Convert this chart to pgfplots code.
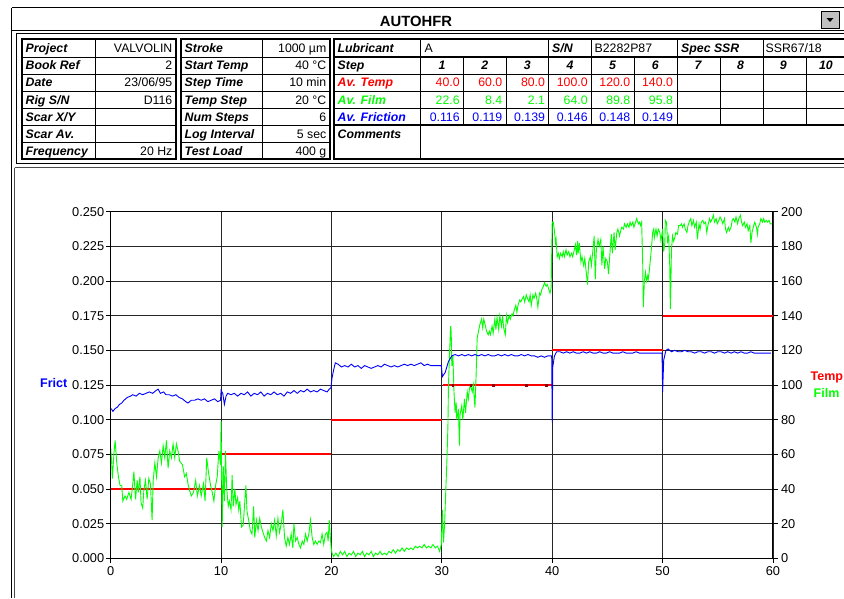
\documentclass[border=0pt]{standalone}
\usepackage{fontspec}
\setmainfont{Liberation Sans}
\usepackage{pgfplots}
\pgfplotsset{compat=1.18}
\definecolor{cred}{RGB}{255,0,0}
\definecolor{cgreen}{RGB}{0,255,0}
\definecolor{cblue}{RGB}{0,0,255}
\definecolor{dkred}{RGB}{140,0,0}
\definecolor{btn}{RGB}{192,192,192}
\newcommand\tf{\fontsize{12.3}{14}\selectfont}
\newcommand\tb{\fontsize{12.3}{14}\selectfont\bfseries\itshape}
% row baselines (pixel rows, y down)
\def\ra{52.5}\def\rb{69.8}\def\rc{86.8}\def\rd{104}\def\re{121.1}\def\rf{138.3}\def\rg{155.3}
% one temperature step as a thin band: start, end, value
\newcommand\tstep[3]{\addplot[fill=cred, draw=none] coordinates {(#1,#3-0.65) (#2,#3-0.65) (#2,#3+0.65) (#1,#3+0.65)};}

\begin{document}
\begin{tikzpicture}
\useasboundingbox (0,0) rectangle (844pt,-598pt);
\fill[white] (0,0) rectangle (844pt,-598pt);
\clip (0,0) rectangle (844pt,-598pt);

\begin{scope}[x=1pt,y=-1pt,every node/.style={inner sep=0pt}]
% window and title bar
\draw[line width=1pt] (11.5,7.5) -- (850,7.5);
\draw[line width=1pt] (11.5,7.5) -- (11.5,598);
\draw[line width=1pt] (11.5,30.5) -- (850,30.5);
\node[anchor=base,font=\fontsize{14.8}{17}\selectfont\bfseries] at (416,26) {AUTOHFR};
\draw[fill=btn,line width=0.8pt] (821,11.5) rectangle (839,28.5);
\fill (826.5,18) -- (833.5,18) -- (830,22) -- cycle;
% frame round the tables
\draw[line width=1pt] (16.5,33.5) rectangle (850,163.5);
% chart pane
\draw[line width=0.8pt,black!70] (14.5,167.5) -- (850,167.5);
\draw[line width=0.8pt,black!70] (14.5,167.5) -- (14.5,598);

% ---- table 1
\foreach \y in {57,74,91,108.3,125.3,142.7} \draw[line width=0.8pt] (22,\y) -- (176,\y);
\draw[line width=0.8pt] (95,39.3) -- (95,159.3);
\draw[line width=2pt] (22,39.3) rectangle (176,159.3);
\foreach \y/\t/\v in {\ra/Project/VALVOLIN,\rb/Book Ref/2,\rc/Date/23\slash 06\slash 95,\rd/Rig S\slash N/D116,\re/Scar X\slash Y/,\rf/Scar Av./,\rg/Frequency/20 Hz}{
  \node[anchor=base west,font=\tb] at (25.5,\y) {\t};
  \node[anchor=base east,font=\tf] at (172.5,\y) {\v};
}
% ---- table 2
\foreach \y in {57,74,91,108.3,125.3,142.7} \draw[line width=0.8pt] (181,\y) -- (330,\y);
\draw[line width=0.8pt] (262.3,39.3) -- (262.3,159.3);
\draw[line width=2pt] (181,39.3) rectangle (330,159.3);
\foreach \y/\t/\v in {\ra/Stroke/1000 µm,\rb/Start Temp/40 °C,\rc/Step Time/10 min,\rd/Temp Step/20 °C,\re/Num Steps/6,\rf/Log Interval/5 sec,\rg/Test Load/400 g}{
  \node[anchor=base west,font=\tb] at (184.5,\y) {\t};
  \node[anchor=base east,font=\tf] at (326.5,\y) {\v};
}
% ---- table 3
\draw[line width=0.8pt] (334,74) -- (850,74);
\draw[line width=0.8pt] (334,91) -- (850,91);
\draw[line width=0.8pt] (334,108.3) -- (850,108.3);
\draw[line width=2pt] (334,57) -- (850,57);
\draw[line width=2pt] (334,125.3) -- (850,125.3);
\draw[line width=0.8pt] (420.7,39.3) -- (420.7,159.3);
\foreach \x in {548.7,591.3,677.3,763} \draw[line width=0.8pt] (\x,39.3) -- (\x,57);
\foreach \x in {463.7,506.3,548.7,591.3,634.3,677.3,720.3,763,806} \draw[line width=0.8pt] (\x,57) -- (\x,125.3);
\draw[line width=2pt] (334,39.3) rectangle (852,159.3);
\node[anchor=base west,font=\tb] at (337.5,\ra) {Lubricant};
\node[anchor=base west,font=\tb] at (337.5,\rb) {Step};
\node[anchor=base west,font=\tb,text=cred] at (337.5,\rc) {Av. Temp};
\node[anchor=base west,font=\tb,text=cgreen] at (337.5,\rd) {Av. Film};
\node[anchor=base west,font=\tb,text=cblue] at (337.5,\re) {Av. Friction};
\node[anchor=base west,font=\tb] at (337.5,\rf) {Comments};
\node[anchor=base west,font=\tf] at (424.5,\ra) {A};
\node[anchor=base west,font=\tb] at (552,\ra) {S/N};
\node[anchor=base west,font=\tf] at (594.5,\ra) {B2282P87};
\node[anchor=base west,font=\tb] at (681,\ra) {Spec SSR};
\node[anchor=base west,font=\tf] at (765.5,\ra) {SSR67/18};
\foreach \k in {1,...,10} \node[anchor=base,font=\tb] at ({420.7+42.65*(\k-0.5)},\rb) {\k};
\foreach \k/\a/\b/\c in {1/40.0/22.6/0.116,2/60.0/8.4/0.119,3/80.0/2.1/0.139,4/100.0/64.0/0.146,5/120.0/89.8/0.148,6/140.0/95.8/0.149}{
  \node[anchor=base east,font=\tf,text=cred] at ({420.7+42.65*\k-3.5},\rc) {\a};
  \node[anchor=base east,font=\tf,text=cgreen] at ({420.7+42.65*\k-3.5},\rd) {\b};
  \node[anchor=base east,font=\tf,text=cblue] at ({420.7+42.65*\k-3.5},\re) {\c};
}
\end{scope}

% ---- temperature and film, right axis (carries the grid)
\begin{axis}[
  at={(110.7pt,-558.3pt)}, anchor=south west, scale only axis,
  width=662.3pt, height=346.6pt,
  xmin=0, xmax=60, ymin=0, ymax=200,
  xtick={0,10,20,30,40,50,60},
  ytick={0,20,40,60,80,100,120,140,160,180,200},
  xtick pos=bottom, ytick pos=right,
  yticklabel pos=right,
  grid=major, major grid style={black!85, line width=0.9pt},
  axis line style={black, line width=1pt},
  tick align=outside, major tick length=4.5pt,
  tick style={black, line width=0.9pt},
  ticklabel style={font=\fontsize{12.8}{14}\selectfont},
  /pgf/number format/assume math mode=true,
]
% temperature steps (deg C held over each 10 min step)
\tstep{0}{10}{40}
\tstep{10}{20}{60}
\tstep{20}{30}{80}
\tstep{30.1}{40}{100}
\tstep{40}{50}{120}
\tstep{50}{60}{140}
\addplot[dkred, only marks, mark=square*, mark size=0.7pt] coordinates {
(31.0,100) (32.6,100) (34.65,100) (37.65,100) (39.45,100)
};
\addplot[cgreen, line width=0.9pt] coordinates {
(0.0,64) (0.08,56) (0.15,46) (0.3,61) (0.4,68) (0.55,55) (0.7,47) (0.85,42) (1.0,42)
(1.1,33) (1.3,36) (1.45,34) (1.65,38) (1.85,34) (2.0,43) (2.1,50) (2.25,34) (2.4,45)
(2.5,38) (2.65,47) (2.75,32) (2.9,29) (3.0,39) (3.15,45) (3.3,34) (3.45,46) (3.6,43)
(3.75,22) (3.85,45) (4.0,55) (4.15,47) (4.3,58) (4.45,62) (4.6,55) (4.75,65) (4.9,58)
(5.05,68) (5.2,52) (5.35,62) (5.5,58) (5.65,66) (5.8,58) (5.95,66) (6.1,62) (6.25,56)
(6.5,54) (6.7,47) (6.85,49) (7.0,43) (7.15,39) (7.3,36) (7.5,38) (7.7,45) (7.85,36)
(8.05,42) (8.2,36) (8.4,43) (8.55,33) (8.7,58) (8.85,50) (9.05,42) (9.2,38) (9.35,33)
(9.5,42) (9.65,47) (9.8,62) (9.95,54) (10.0,79) (10.1,18) (10.2,53) (10.3,33) (10.4,62)
(10.5,41) (10.65,30) (10.75,33) (10.9,28) (11.0,48) (11.1,30) (11.25,40) (11.35,31)
(11.5,35) (11.6,28) (11.7,33) (11.85,18) (12.0,19) (12.15,33) (12.25,42) (12.35,27)
(12.5,22) (12.65,16) (12.8,14) (12.95,30) (13.05,12) (13.2,22) (13.35,16) (13.5,23)
(13.65,18) (13.8,15) (13.95,12) (14.1,10) (14.25,16) (14.4,12) (14.55,20) (14.7,16)
(14.85,22) (15.0,13) (15.15,23) (15.3,15) (15.45,20) (15.6,28) (15.75,12) (15.9,7)
(16.05,12) (16.2,8) (16.35,14) (16.5,6) (16.6,20) (16.75,10) (16.9,12) (17.05,8)
(17.2,6) (17.35,10) (17.5,8) (17.65,14) (17.8,10) (17.95,14) (18.1,22) (18.25,12)
(18.4,8) (18.55,10) (18.7,8) (18.85,10) (19.0,9) (19.15,14) (19.3,8) (19.45,14)
(19.6,15) (19.7,10) (19.8,22) (19.9,12) (19.97,6) (20.05,3) (20.2,1) (20.4,3) (20.6,1)
(20.8,4) (21.0,2) (21.2,4) (21.4,1) (21.6,3) (21.8,2) (22.0,4) (22.2,1) (22.4,3)
(22.6,2) (22.8,4) (23.0,1) (23.2,3) (23.4,2) (23.6,4) (23.8,1) (24.0,3) (24.2,2)
(24.4,4) (24.6,2) (24.8,3) (25.0,2) (25.2,4) (25.4,3) (25.6,5) (25.8,3) (26.0,5)
(26.2,4) (26.4,6) (26.6,4) (26.8,6) (27.0,5) (27.2,6) (27.4,5) (27.6,7) (27.8,6)
(28.0,7) (28.2,6) (28.4,8) (28.6,6) (28.8,7) (29.0,6) (29.2,8) (29.4,6) (29.6,7)
(29.8,4) (29.95,8) (30.05,28) (30.15,9) (30.25,20) (30.35,38) (30.45,55) (30.55,76)
(30.6,100) (30.7,119) (30.8,134) (30.85,130) (30.9,111) (31.0,117) (31.1,96) (31.2,84)
(31.3,90) (31.35,80) (31.5,86) (31.6,65) (31.65,83) (31.8,88) (31.9,80) (32.05,92)
(32.15,84) (32.3,96) (32.4,92) (32.5,98) (32.6,100) (32.75,96) (32.85,100) (33.0,87)
(33.1,105) (33.2,127) (33.35,132) (33.45,135) (33.6,138) (33.7,133) (33.8,138)
(33.95,134) (34.05,131) (34.2,129) (34.3,131) (34.4,129) (34.55,134) (34.65,130)
(34.8,138) (34.9,132) (35.0,139) (35.15,132) (35.25,140) (35.4,134) (35.5,140)
(35.6,133) (35.75,129) (35.85,140) (35.95,136) (36.1,140) (36.2,138) (36.35,141)
(36.45,140) (36.55,143) (36.7,146) (36.8,142) (36.9,146) (37.05,149) (37.15,148)
(37.3,150) (37.4,151) (37.5,148) (37.65,152) (37.75,150) (37.9,148) (38.0,152)
(38.1,146) (38.25,152) (38.35,150) (38.5,153) (38.6,150) (38.7,145) (38.85,153)
(38.95,152) (39.05,155) (39.2,157) (39.3,159) (39.45,157) (39.55,158) (39.65,156)
(39.8,153) (39.9,156) (40.0,194) (40.1,194) (40.2,189) (40.3,182) (40.35,184)
(40.45,174) (40.55,176) (40.65,173) (40.75,176) (40.9,174) (41.0,177) (41.1,174)
(41.25,178) (41.35,175) (41.5,177) (41.6,174) (41.75,176) (41.85,174) (42.0,178)
(42.1,181) (42.2,175) (42.3,183) (42.35,176) (42.45,182) (42.6,171) (42.7,174)
(42.85,169) (42.95,173) (43.05,167) (43.2,158) (43.3,171) (43.45,174) (43.55,169)
(43.7,179) (43.8,186) (43.9,161) (44.0,178) (44.15,184) (44.25,180) (44.4,184)
(44.5,169) (44.6,180) (44.75,167) (44.85,173) (45.0,171) (45.1,164) (45.25,178)
(45.35,187) (45.45,176) (45.6,188) (45.7,178) (45.85,188) (45.95,190) (46.1,186)
(46.2,189) (46.3,191) (46.45,190) (46.55,193) (46.7,191) (46.8,193) (46.95,191)
(47.05,194) (47.15,192) (47.3,194) (47.4,191) (47.55,194) (47.65,196) (47.8,193)
(47.9,194) (48.0,192) (48.1,194) (48.2,169) (48.25,145) (48.35,160) (48.45,165)
(48.55,160) (48.65,163) (48.7,161) (48.8,166) (48.9,173) (49.0,180) (49.1,188)
(49.2,190) (49.25,185) (49.4,190) (49.5,186) (49.6,190) (49.75,188) (49.85,183)
(50.0,190) (50.1,177) (50.2,182) (50.25,195) (50.35,194) (50.45,183) (50.55,186)
(50.65,168) (50.7,144) (50.75,159) (50.8,178) (50.9,186) (51.0,183) (51.1,185)
(51.2,188) (51.35,187) (51.45,192) (51.6,192) (51.7,193) (51.8,191) (51.95,193)
(52.05,190) (52.2,188) (52.3,192) (52.4,194) (52.55,196) (52.65,192) (52.8,195)
(52.9,191) (53.05,194) (53.15,184) (53.3,193) (53.4,190) (53.5,194) (53.65,195)
(53.75,193) (53.9,194) (54.0,188) (54.1,192) (54.25,196) (54.35,194) (54.5,196)
(54.6,198) (54.7,194) (54.85,196) (54.95,193) (55.1,195) (55.2,197) (55.35,195)
(55.45,193) (55.6,196) (55.7,190) (55.8,188) (55.95,191) (56.05,189) (56.2,191)
(56.3,195) (56.4,196) (56.55,194) (56.65,197) (56.8,193) (56.9,196) (57.05,198)
(57.15,194) (57.25,192) (57.4,194) (57.5,191) (57.65,193) (57.75,189) (57.9,192)
(58.0,182) (58.1,188) (58.25,192) (58.35,194) (58.5,191) (58.6,187) (58.65,191)
(58.8,193) (58.9,196) (59.05,194) (59.15,196) (59.25,194) (59.4,195) (59.5,194)
(59.65,195) (59.75,193) (59.9,193)
};
\end{axis}

% ---- friction, left axis
\begin{axis}[
  at={(110.7pt,-558.3pt)}, anchor=south west, scale only axis,
  width=662.3pt, height=346.6pt,
  xmin=0, xmax=60, ymin=0, ymax=0.25,
  axis x line=none, axis y line*=left,
  ytick={0,0.025,0.05,0.075,0.1,0.125,0.15,0.175,0.2,0.225,0.25},
  axis line style={black, line width=1pt},
  tick align=outside, major tick length=4.5pt,
  tick style={black, line width=0.9pt},
  ticklabel style={font=\fontsize{12.8}{14}\selectfont},
  yticklabel style={xshift=1.5pt},
  /pgf/number format/assume math mode=true,
  scaled y ticks=false,
  yticklabel style={/pgf/number format/.cd, fixed, fixed zerofill, precision=3},
]
\addplot[cblue, line width=0.9pt] coordinates {
(0.05,0.108) (0.2,0.106) (0.4,0.108) (0.6,0.109) (0.8,0.111) (1.0,0.112) (1.2,0.114)
(1.5,0.116) (1.8,0.117) (2.0,0.118) (2.3,0.117) (2.6,0.119) (2.9,0.118) (3.2,0.119)
(3.5,0.120) (3.8,0.119) (4.1,0.121) (4.3,0.122) (4.5,0.119) (4.8,0.120) (5.0,0.118)
(5.3,0.118) (5.6,0.117) (5.9,0.118) (6.2,0.116) (6.5,0.115) (6.8,0.113) (7.0,0.112)
(7.3,0.114) (7.6,0.114) (7.9,0.115) (8.2,0.114) (8.5,0.115) (8.8,0.113) (9.1,0.114)
(9.4,0.115) (9.7,0.113) (9.95,0.114) (10.0,0.121) (10.15,0.119) (10.3,0.111) (10.45,0.117)
(10.6,0.119) (10.9,0.118) (11.2,0.119) (11.5,0.117) (11.8,0.119) (12.1,0.118) (12.4,0.120)
(12.7,0.117) (13.0,0.119) (13.3,0.118) (13.6,0.120) (13.9,0.117) (14.2,0.119) (14.5,0.118)
(14.8,0.120) (15.1,0.118) (15.4,0.119) (15.7,0.117) (16.0,0.120) (16.3,0.119) (16.6,0.121)
(16.9,0.119) (17.2,0.121) (17.5,0.120) (17.8,0.122) (18.1,0.120) (18.4,0.121) (18.7,0.120)
(19.0,0.122) (19.3,0.121) (19.6,0.120) (19.8,0.122) (19.95,0.123)
(20.05,0.130) (20.2,0.136) (20.35,0.141) (20.6,0.140) (20.9,0.138) (21.2,0.139) (21.5,0.138)
(21.8,0.140) (22.1,0.138) (22.4,0.139) (22.7,0.137) (23.0,0.139) (23.3,0.138) (23.6,0.137)
(23.9,0.138) (24.2,0.139) (24.5,0.138) (24.8,0.140) (25.1,0.139) (25.4,0.138) (25.7,0.139)
(26.0,0.138) (26.3,0.139) (26.6,0.140) (26.9,0.139) (27.2,0.140) (27.5,0.139) (27.8,0.140)
(28.1,0.141) (28.4,0.139) (28.7,0.140) (29.0,0.139) (29.3,0.139) (29.6,0.139) (29.95,0.139)
(30.05,0.131) (30.3,0.134) (30.6,0.142) (30.9,0.146) (31.2,0.147) (31.5,0.146) (31.8,0.147)
(32.1,0.146) (32.4,0.147) (32.7,0.146) (33.0,0.147) (33.3,0.146) (33.6,0.147) (33.9,0.146)
(34.2,0.147) (34.5,0.146) (34.8,0.146) (35.1,0.147) (35.4,0.146) (35.7,0.147) (36.0,0.146)
(36.3,0.147) (36.6,0.146) (36.9,0.146) (37.2,0.147) (37.5,0.146) (37.8,0.147) (38.1,0.146)
(38.4,0.146) (38.7,0.145) (39.0,0.146) (39.3,0.145) (39.6,0.146) (39.95,0.146)
(40.0,0.098) (40.05,0.138) (40.2,0.146) (40.4,0.149) (40.7,0.149) (41.0,0.148) (41.3,0.149)
(41.6,0.148) (41.9,0.149) (42.2,0.148) (42.5,0.148) (42.8,0.149) (43.1,0.148) (43.4,0.149)
(43.7,0.148) (44.0,0.148) (44.3,0.149) (44.6,0.148) (44.9,0.148) (45.2,0.149) (45.5,0.148)
(45.8,0.148) (46.1,0.148) (46.4,0.149) (46.7,0.148) (47.0,0.148) (47.3,0.148) (47.6,0.149)
(47.9,0.148) (48.2,0.148) (48.5,0.148) (48.8,0.148) (49.1,0.148) (49.4,0.148) (49.7,0.148)
(49.95,0.148) (50.0,0.120) (50.1,0.143) (50.3,0.150) (50.5,0.151) (50.8,0.149) (51.1,0.150)
(51.4,0.149) (51.7,0.149) (52.0,0.150) (52.3,0.149) (52.6,0.149) (52.9,0.148) (53.2,0.149)
(53.5,0.149) (53.8,0.148) (54.1,0.149) (54.4,0.149) (54.7,0.148) (55.0,0.149) (55.3,0.149)
(55.6,0.148) (55.9,0.149) (56.2,0.148) (56.5,0.149) (56.8,0.148) (57.1,0.149) (57.4,0.148)
(57.7,0.148) (58.0,0.149) (58.3,0.148) (58.6,0.148) (58.9,0.148) (59.2,0.148) (59.5,0.148)
(59.8,0.148)
};
\end{axis}

\begin{scope}[x=1pt,y=-1pt,every node/.style={inner sep=0pt}]
\node[anchor=base west,font=\fontsize{12.5}{14}\selectfont\bfseries,text=cblue] at (40,387.5) {Frict};
\node[anchor=base west,font=\fontsize{12.5}{14}\selectfont\bfseries,text=cred] at (810.5,380) {Temp};
\node[anchor=base west,font=\fontsize{12.5}{14}\selectfont\bfseries,text=cgreen] at (813.5,397) {Film};
\end{scope}
\end{tikzpicture}
\end{document}
